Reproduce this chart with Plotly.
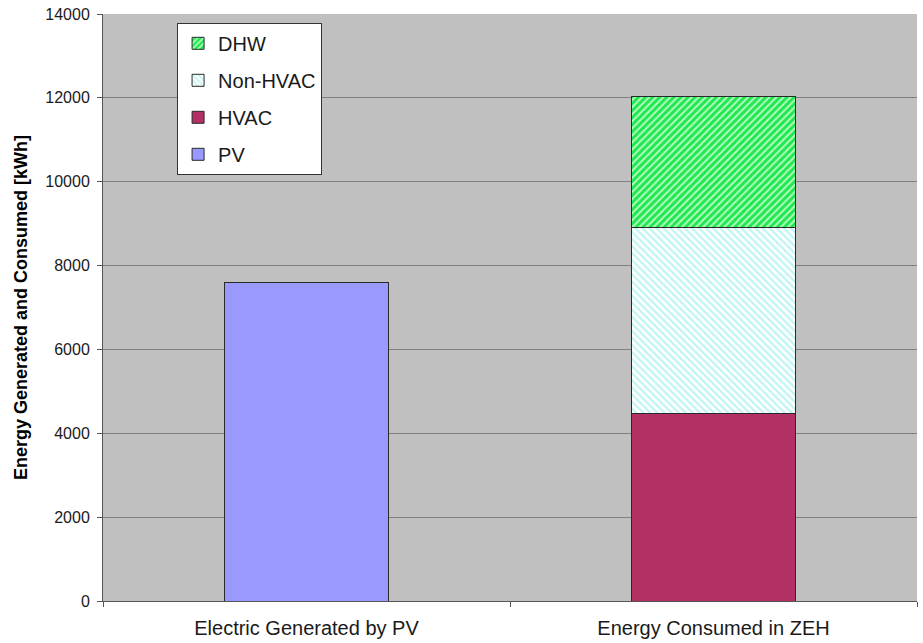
import plotly.graph_objects as go

# Categories on the x axis
categories = ["Electric Generated by PV", "Energy Consumed in ZEH"]

# Annual energy (kWh)
pv_generated = [7600, None]
hvac = [None, 4470]
non_hvac = [None, 4450]
dhw = [None, 3120]

FONT = "Liberation Sans, Arial, sans-serif"
OUTLINE = dict(color="#2a2a2a", width=1)

fig = go.Figure()

fig.add_trace(go.Bar(
    name="PV", x=categories, y=pv_generated, legendgroup="pv", legendrank=4,
    marker=dict(color="#9999ff", line=OUTLINE),
))
fig.add_trace(go.Bar(
    name="HVAC", x=categories, y=hvac, legendgroup="hvac", legendrank=3,
    marker=dict(color="#b23063", line=OUTLINE),
))
fig.add_trace(go.Bar(
    name="Non-HVAC", x=categories, y=non_hvac, legendgroup="nonhvac", legendrank=2,
    marker=dict(color="#ffffff", line=OUTLINE,
                pattern=dict(shape="\\", fillmode="replace", bgcolor="#ffffff",
                             fgcolor="#bff5f5", size=5, solidity=0.45)),
))
fig.add_trace(go.Bar(
    name="DHW", x=categories, y=dhw, legendgroup="dhw", legendrank=1,
    marker=dict(color="#22ee55", line=OUTLINE,
                pattern=dict(shape="/", fillmode="replace", bgcolor="#1fe84f",
                             fgcolor="#b5ffc0", size=5, solidity=0.4)),
))

fig.update_layout(
    width=923, height=643,
    barmode="stack",
    bargap=0.597,
    paper_bgcolor="#ffffff",
    plot_bgcolor="#c0c0c0",
    margin=dict(l=103, r=6, t=14, b=42),
    font=dict(family=FONT, size=16, color="#1a1a1a"),
    legend=dict(
        x=0.091, y=0.985, xanchor="left", yanchor="top",
        bgcolor="#ffffff", bordercolor="#333333", borderwidth=1,
        font=dict(family=FONT, size=20, color="#1a1a1a"),
        traceorder="grouped", tracegroupgap=8,
        itemwidth=30,
    ),
    showlegend=True,
)

fig.update_yaxes(
    range=[0, 14000], dtick=2000, tickformat="d",
    showgrid=True, gridcolor="#7f7f7f", gridwidth=1,
    showline=True, linecolor="#555555", linewidth=1,
    ticks="outside", ticklen=5, tickcolor="#555555",
    tickfont=dict(family=FONT, size=16, color="#1a1a1a"),
    ticklabelstandoff=4,
    zeroline=False, automargin=False,
    title=dict(text="<b>Energy Generated and Consumed [kWh]</b>",
               font=dict(family=FONT, size=18, color="#000000"), standoff=12),
)
fig.update_xaxes(
    showline=True, linecolor="#555555", linewidth=1,
    ticks="outside", ticklen=5, tickcolor="#555555", tickson="boundaries",
    tickfont=dict(family=FONT, size=20, color="#1a1a1a"),
    ticklabelstandoff=9, automargin=False,
)

fig.write_html("out.html")
